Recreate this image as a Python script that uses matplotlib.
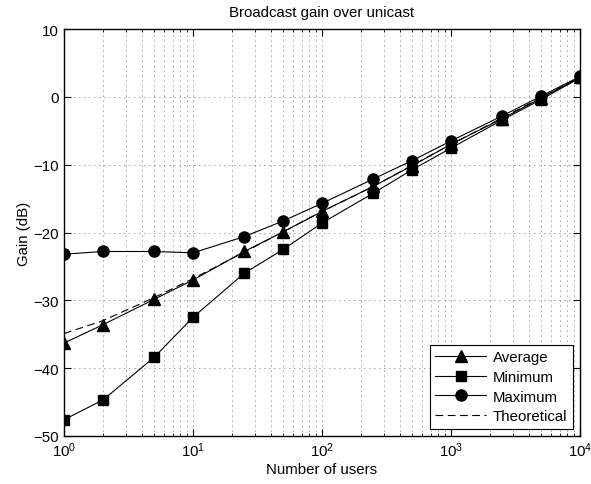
import matplotlib
matplotlib.use("Agg")
import matplotlib.pyplot as plt
from matplotlib.ticker import LogLocator, NullFormatter

plt.rcParams['font.family'] = ['Liberation Sans', 'DejaVu Sans']
plt.rcParams['mathtext.fontset'] = 'custom'
plt.rcParams['mathtext.rm'] = 'Liberation Sans'
plt.rcParams['mathtext.it'] = 'Liberation Sans'
plt.rcParams['axes.unicode_minus'] = True

users = [1, 2, 5, 10, 25, 50, 100, 250, 500, 1000, 2500, 5000, 10000]
average = [-36.3, -33.6, -29.85, -27.0, -22.8, -19.9, -16.9, -13.2, -10.15, -7.0, -3.2, -0.2, 2.9]
minimum = [-47.6, -44.7, -38.4, -32.5, -26.0, -22.5, -18.6, -14.2, -10.75, -7.55, -3.4, -0.4, 2.8]
maximum = [-23.2, -22.8, -22.8, -23.0, -20.6, -18.3, -15.7, -12.1, -9.4, -6.5, -2.8, 0.1, 3.0]
theoretical = [-34.9, -33.0, -29.6, -26.8, -22.9, -19.9, -16.9, -13.2, -10.1, -7.0, -3.1, -0.1, 2.9]

fs = 10.8

fig = plt.figure(figsize=(5.91, 4.85), dpi=100)
ax = fig.add_axes([64/591, 1-437/485, (580-64)/591, (437-30)/485])

ax.plot(users, average, 'k-', marker='^', markersize=8, lw=0.8, label='Average')
ax.plot(users, minimum, 'k-', marker='s', markersize=7, lw=0.8, label='Minimum')
ax.plot(users, maximum, 'k-', marker='o', markersize=8, lw=0.8, label='Maximum')
ax.plot(users, theoretical, color='k', ls=(0, (7, 4)), lw=0.8, label='Theoretical')

ax.set_xscale('log')
ax.set_xlim(1, 1e4)
ax.set_ylim(-50, 10)
ax.set_yticks([-50, -40, -30, -20, -10, 0, 10])
ax.xaxis.set_major_locator(LogLocator(base=10, numticks=10))
ax.xaxis.set_minor_locator(LogLocator(base=10, subs=range(2, 10), numticks=20))
ax.xaxis.set_minor_formatter(NullFormatter())

ax.grid(True, which='major', axis='both', ls=(0, (1, 5)), color='0.25', lw=0.6)
ax.grid(True, which='minor', axis='x', ls=(0, (1, 5)), color='0.25', lw=0.6)

ax.tick_params(which='both', direction='in', top=True, right=True, labelsize=fs)
ax.tick_params(which='major', length=5)
ax.tick_params(which='minor', length=2.5)
for s in ax.spines.values():
    s.set_linewidth(1.0)

ax.set_title('Broadcast gain over unicast', fontsize=fs, pad=9)
ax.set_xlabel('Number of users', fontsize=fs, labelpad=2)
ax.set_ylabel('Gain (dB)', fontsize=fs, labelpad=2)

leg = ax.legend(loc='lower right', fontsize=fs, fancybox=False, edgecolor='k',
                framealpha=1, handlelength=3.4, borderaxespad=0.5,
                labelspacing=0.38, handletextpad=0.45, borderpad=0.35)
leg.get_frame().set_linewidth(0.8)

fig.savefig('out.png', dpi=100)
